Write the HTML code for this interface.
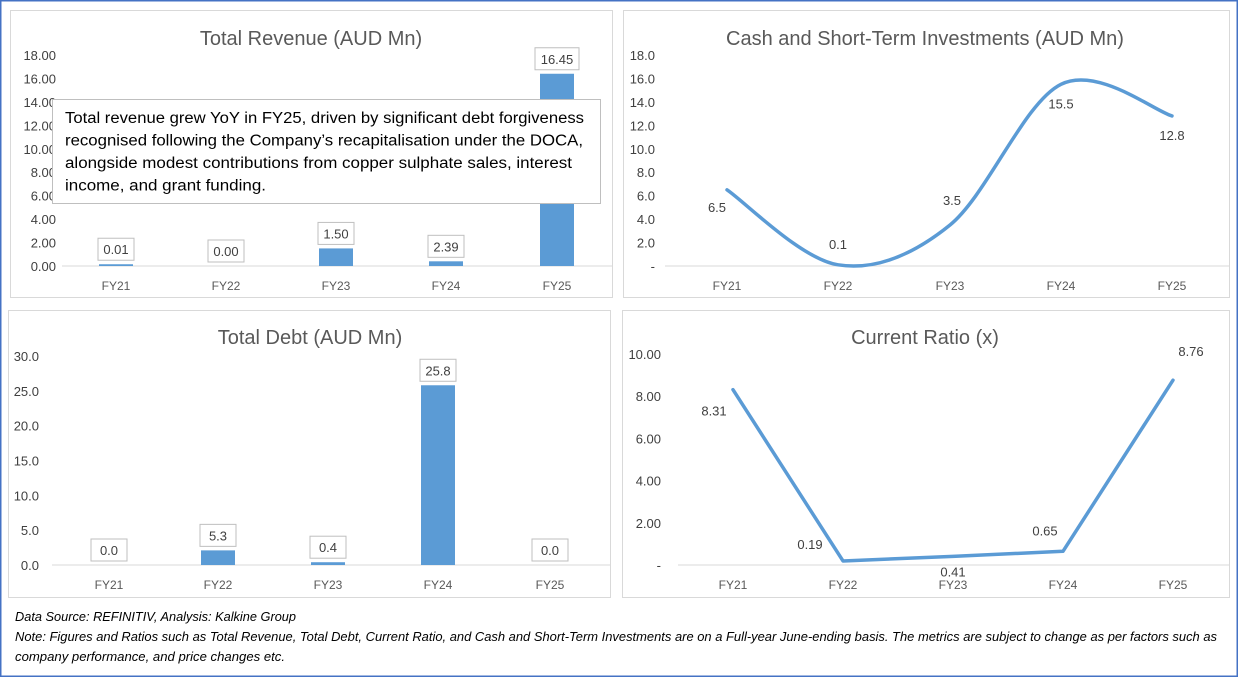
<!DOCTYPE html>
<html><head><meta charset="utf-8"><style>
body{margin:0;width:1238px;height:677px;background:#fff;overflow:hidden;font-family:"Liberation Sans",sans-serif}
svg{position:absolute;left:0;top:0}
</style></head><body>
<svg id="s" width="1238" height="677" font-family="Liberation Sans, sans-serif">
<rect x="0.5" y="0.5" width="1237" height="676" fill="none" stroke="#4472c4" stroke-width="2"/>
</svg>
<script>
const cats=["FY21","FY22","FY23","FY24","FY25"];
const revValues=[0.15,0.0,1.5,0.4,16.4];
const revLabels=["0.01","0.00","1.50","2.39","16.45"];
const revTicks=["0.00","2.00","4.00","6.00","8.00","10.00","12.00","14.00","16.00","18.00"];
const debtValues=[0.0,2.1,0.4,25.8,0.0];
const debtLabels=["0.0","5.3","0.4","25.8","0.0"];
const debtTicks=["0.0","5.0","10.0","15.0","20.0","25.0","30.0"];
const cashValues=[6.5,0.1,3.5,15.5,12.8];
const cashLabels=["6.5","0.1","3.5","15.5","12.8"];
const cashTicks=["-","2.0","4.0","6.0","8.0","10.0","12.0","14.0","16.0","18.0"];
const crValues=[8.31,0.19,0.41,0.65,8.76];
const crLabels=["8.31","0.19","0.41","0.65","8.76"];
const crTicks=["-","2.00","4.00","6.00","8.00","10.00"];

const S=document.getElementById('s');const NS='http://www.w3.org/2000/svg';
function mk(t,a,p){const e=document.createElementNS(NS,t);for(const k in a)e.setAttribute(k,a[k]);(p||S).appendChild(e);return e;}
function txt(x,y,s,size,anchor,fill,p){const e=mk('text',{x:x,y:y,'font-size':size,'text-anchor':anchor||'middle',fill:fill||'#595959'},p);e.textContent=s;return e;}

function panel(name,bx,by,bw,bh,title,tx,ty){
 const g=mk('g',{});
 
 
 const r=mk('rect',{x:bx+.5,y:by+.5,width:bw,height:bh,fill:'#fff',stroke:'#d9d9d9'},g);
 
 
 const t=txt(tx,ty,title,20,'middle','#595959',g);
 
 
 return g;}

function axes(g,name,xs,y0,y1,max,ticks,tickX,axX0,axX1){
 const yf=v=>y0-(v/max)*(y0-y1);
 ticks.forEach((t,i)=>{const v=i*max/(ticks.length-1);const e=txt(tickX,yf(v)+5,t,13,'end','#404040',g);
  
  });
 const l=mk('line',{x1:axX0,x2:axX1,y1:y0,y2:y0,stroke:'#d9d9d9','stroke-width':1},g);
 
 
 cats.forEach((c,i)=>{const e=txt(xs[i],y0+24,c,12,'middle','#595959',g);
  
  });
 return yf;}

function callout(g,cx,ty,label,w){
 const b=mk('rect',{x:cx-w/2,y:ty-20,width:w,height:22,fill:'#fff',stroke:'#bfbfbf'},g);
 
 
 const e=txt(cx,ty-4,label,13,'middle','#404040',g);
 
 }

function bars(g,name,xs,yf,y0,vals,labels,bw){
 vals.forEach((v,i)=>{const yt=yf(v);
  const b=mk('rect',{x:xs[i]-bw/2,y:yt,width:bw,height:Math.max(0,y0-yt),fill:'#5b9bd5'},g);
  
  
  const w=labels[i].length>4?44:36;
  callout(g,xs[i],Math.min(yt,y0)-6,labels[i],w);});}

// Revenue
let g=panel('total-revenue-chart',10,10,602,287,'Total Revenue (AUD Mn)',311,45);
let xs=[116,226,336,446,557];
let yf=axes(g,'revenue',xs,266,55,18,revTicks,56,62,612);
bars(g,'revenue',xs,yf,266,revValues,revLabels,34);
const ab=mk('rect',{x:52.5,y:99.5,width:548,height:104,fill:'#fff',stroke:'#bfbfbf'},g);


const annLens=[519,518,507,201];
["Total revenue grew YoY in FY25, driven by significant debt forgiveness","recognised following the Company\u2019s recapitalisation under the DOCA,","alongside modest contributions from copper sulphate sales, interest","income, and grant funding."].forEach((s,i)=>{const e=txt(65,123+i*22.5,s,15.5,'start','#000',g);
 e.setAttribute('textLength',annLens[i]);
 e.setAttribute('lengthAdjust','spacingAndGlyphs');
 
 });

// Debt
g=panel('total-debt-chart',8,310,602,287,'Total Debt (AUD Mn)',310,344);
xs=[109,218,328,438,550];
yf=axes(g,'debt',xs,565,356,30,debtTicks,39,52,610);
bars(g,'debt',xs,yf,565,debtValues,debtLabels,34);

// Cash
g=panel('cash-chart',623,10,606,287,'Cash and Short-Term Investments (AUD Mn)',925,45);
xs=[727,838,950,1061,1172];
yf=axes(g,'cash',xs,266,55,18,cashTicks,655,665,1229);
let pts=cashValues.map((v,i)=>[xs[i],yf(v)]);
let d='M'+pts[0][0]+','+pts[0][1];
for(let i=0;i<pts.length-1;i++){const p0=pts[Math.max(0,i-1)],p1=pts[i],p2=pts[i+1],p3=pts[Math.min(pts.length-1,i+2)];
 d+=' C'+(p1[0]+(p2[0]-p0[0])/6)+','+(p1[1]+(p2[1]-p0[1])/6)+' '+(p2[0]-(p3[0]-p1[0])/6)+','+(p2[1]-(p3[1]-p1[1])/6)+' '+p2[0]+','+p2[1];}
let ln=mk('path',{d:d,fill:'none',stroke:'#5b9bd5','stroke-width':3.5,'stroke-linecap':'round'},g);


const cOff=[[-10,22],[0,-16],[2,-20],[0,24],[0,24]];
cashLabels.forEach((s,i)=>{const e=txt(pts[i][0]+cOff[i][0],pts[i][1]+cOff[i][1],s,13,'middle','#404040',g);
 
 });

// Current ratio
g=panel('current-ratio-chart',622,310,607,287,'Current Ratio (x)',925,344);
xs=[733,843,953,1063,1173];
yf=axes(g,'ratio',xs,565,354,10,crTicks,661,678,1229);
pts=crValues.map((v,i)=>[xs[i],yf(v)]);
ln=mk('polyline',{points:pts.map(p=>p.join(',')).join(' '),fill:'none',stroke:'#5b9bd5','stroke-width':3.5,'stroke-linejoin':'round','stroke-linecap':'round'},g);


const rOff=[[-19,26],[-33,-12],[0,20],[-18,-16],[18,-24]];
crLabels.forEach((s,i)=>{const e=txt(pts[i][0]+rOff[i][0],pts[i][1]+rOff[i][1],s,13,'middle','#404040',g);
 
 });

// Footer
const footLens=[281,1202,270];
["Data Source: REFINITIV, Analysis: Kalkine Group","Note: Figures and Ratios such as Total Revenue, Total Debt, Current Ratio, and Cash and Short-Term Investments are on a Full-year June-ending basis. The metrics are subject to change as per factors such as","company performance, and price changes etc."].forEach((s,i)=>{const e=txt(15,621+i*20,s,12.5,'start','#000');
 e.setAttribute('font-style','italic');
 e.setAttribute('textLength',footLens[i]);
 e.setAttribute('lengthAdjust','spacingAndGlyphs');
 
 });
</script>
</body></html>
